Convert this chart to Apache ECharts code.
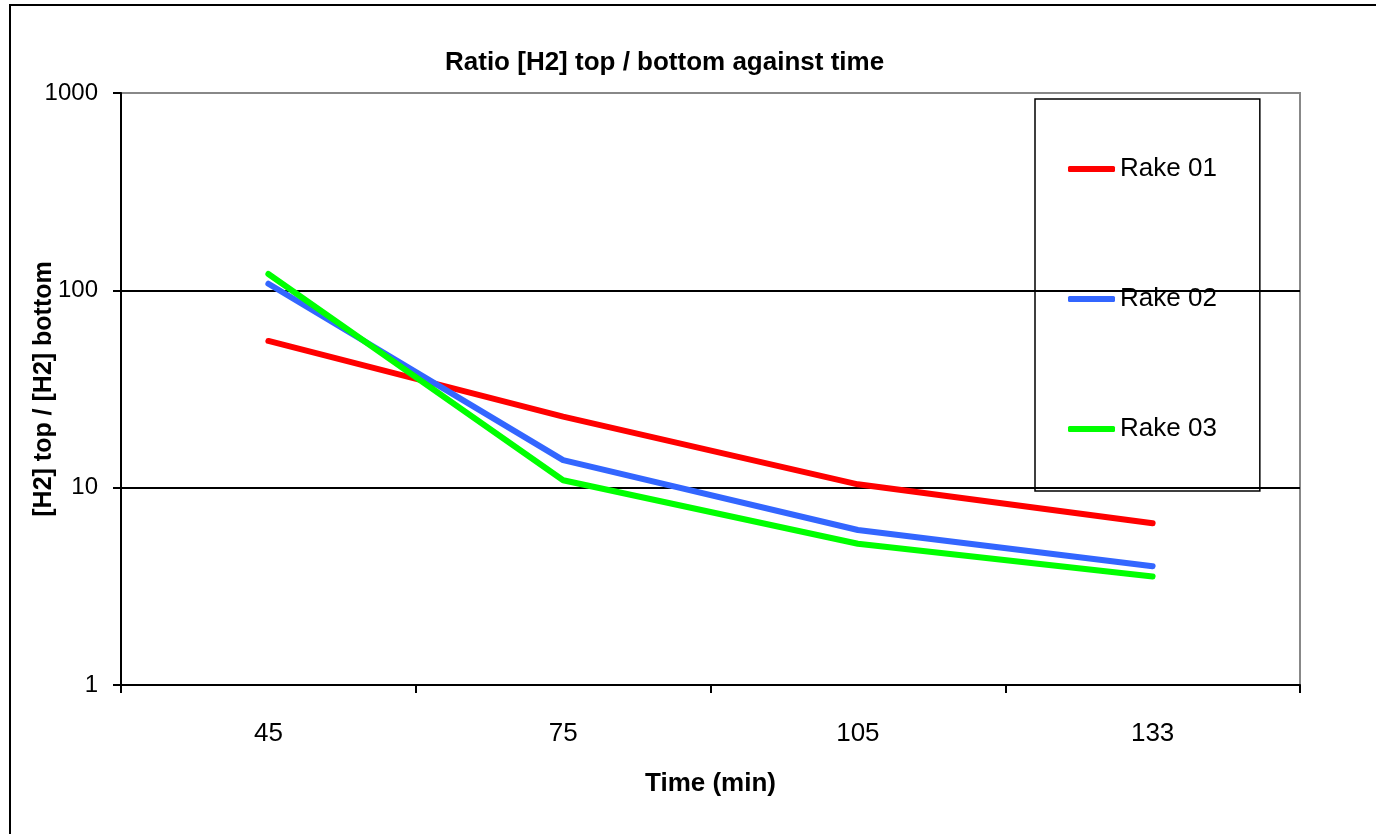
<!DOCTYPE html>
<html>
<head>
<meta charset="utf-8">
<style>
  html, body { margin: 0; padding: 0; background: #fff; }
  #chart { width: 1376px; height: 834px; }
</style>
<script src="https://cdn.jsdelivr.net/npm/echarts@6/dist/echarts.min.js"></script>
</head>
<body>
<div id="chart"></div>
<script>
var times = ['45', '75', '105', '133'];
var rake01 = [55.4, 22.9, 10.4, 6.6];
var rake02 = [108, 13.8, 6.1, 4.0];
var rake03 = [121, 10.9, 5.2, 3.55];

var FONT = "'Liberation Sans', Arial, sans-serif";

var myChart = echarts.init(document.getElementById('chart'));
var option = {
    backgroundColor: '#fff',
    animation: false,
    textStyle: { fontFamily: FONT },
    title: {
        text: 'Ratio [H2] top / bottom against time',
        left: 440,
        top: 45,
        textStyle: {
            fontFamily: FONT,
            fontSize: 26,
            fontWeight: 'bold',
            color: '#000'
        }
    },
    graphic: [{
        type: 'rect',
        shape: { x: 10, y: 5, width: 1500, height: 1000 },
        style: { fill: 'none', stroke: '#000', lineWidth: 2 },
        silent: true
    }],
    legend: {
        orient: 'vertical',
        left: 1035,
        top: 99,
        padding: [57, 43, 49, 33],
        itemGap: 104,
        itemWidth: 47,
        itemHeight: 6,
        icon: 'roundRect',
        borderColor: '#000',
        borderWidth: 1.5,
        textStyle: {
            fontFamily: FONT,
            fontSize: 26,
            color: '#000'
        },
        data: ['Rake 01', 'Rake 02', 'Rake 03']
    },
    grid: {
        left: 121,
        top: 93,
        width: 1179,
        height: 592,
        outerBoundsMode: 'none',
        containLabel: false,
        show: true,
        borderColor: '#888',
        borderWidth: 2
    },
    xAxis: {
        type: 'category',
        data: times,
        boundaryGap: true,
        name: 'Time (min)',
        nameLocation: 'middle',
        nameGap: 86,
        nameMoveOverlap: false,
        nameTextStyle: {
            fontFamily: FONT,
            fontSize: 26,
            fontWeight: 'bold',
            color: '#000'
        },
        axisLine: { lineStyle: { color: '#000', width: 2 } },
        axisTick: { show: true, length: 8, lineStyle: { color: '#000', width: 2 } },
        axisLabel: {
            fontFamily: FONT,
            fontSize: 26,
            color: '#000',
            margin: 36
        },
        splitLine: { show: false }
    },
    yAxis: {
        type: 'log',
        logBase: 10,
        min: 1,
        max: 1000,
        name: '[H2] top / [H2] bottom',
        nameLocation: 'middle',
        nameGap: 64,
        nameMoveOverlap: false,
        nameTextStyle: {
            fontFamily: FONT,
            fontSize: 25,
            fontWeight: 'bold',
            color: '#000'
        },
        axisLine: { show: true, lineStyle: { color: '#000', width: 2 } },
        axisTick: { show: true, length: 8, lineStyle: { color: '#000', width: 2 } },
        axisLabel: {
            fontFamily: FONT,
            fontSize: 24,
            color: '#000',
            margin: 23,
            formatter: function (v) { return String(Math.round(v)); }
        },
        splitLine: {
            show: true,
            lineStyle: { color: ['#000', '#000', '#000', '#888'], width: 2 }
        }
    },
    series: [{
        name: 'Rake 01',
        type: 'line',
        data: rake01,
        symbol: 'none',
        lineStyle: { color: '#ff0000', width: 6, cap: 'round', join: 'round' },
        itemStyle: { color: '#ff0000' }
    }, {
        name: 'Rake 02',
        type: 'line',
        data: rake02,
        symbol: 'none',
        lineStyle: { color: '#3366ff', width: 6, cap: 'round', join: 'round' },
        itemStyle: { color: '#3366ff' }
    }, {
        name: 'Rake 03',
        type: 'line',
        data: rake03,
        symbol: 'none',
        lineStyle: { color: '#00ff00', width: 6, cap: 'round', join: 'round' },
        itemStyle: { color: '#00ff00' }
    }]
};
myChart.setOption(option);
</script>
</body>
</html>
